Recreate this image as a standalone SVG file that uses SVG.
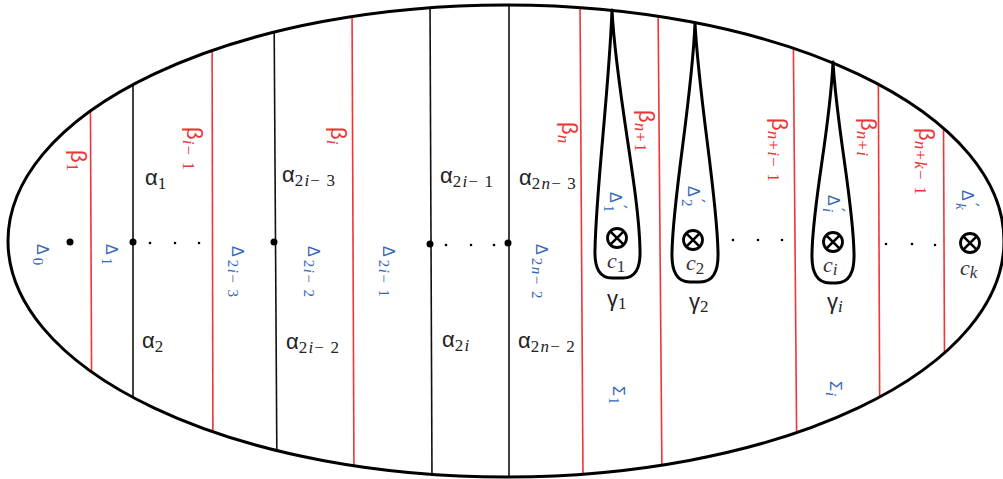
<svg xmlns="http://www.w3.org/2000/svg" width="1003" height="479" viewBox="0 0 1003 479">
<style>
.bd{fill:none;stroke:#000;stroke-width:3}
.a{stroke:#111;stroke-width:1.6;fill:none}
.b{stroke:#ef3535;stroke-width:1.6;fill:none}
.lp{fill:none;stroke:#000;stroke-width:3;stroke-linejoin:round}
.g{font-family:"Liberation Sans",sans-serif;font-size:22px}
.k{fill:#222}
.r{fill:#ee3535}
.bl{fill:#3568b8;font-family:"Liberation Sans",sans-serif;font-size:16px}
.s{font-family:"Liberation Serif",serif;font-size:17px;letter-spacing:1.2px}
.sb{font-family:"Liberation Serif",serif;font-size:15px;letter-spacing:1.5px}
.pr{font-family:"DejaVu Sans",sans-serif;font-size:17px}
.i{font-style:italic}
.c{font-family:"Liberation Serif",serif;font-style:italic;font-size:22px;fill:#333}
.dot{fill:#000}
</style>
<defs>
<clipPath id="clip"><ellipse cx="506" cy="241" rx="498" ry="236"/></clipPath>
<g id="ot"><circle r="9.5" fill="none" stroke="#000" stroke-width="2.8"/><path d="M-6.7,-6.7L6.7,6.7M6.7,-6.7L-6.7,6.7" stroke="#000" stroke-width="2.6"/></g>
</defs>
<rect width="1003" height="479" fill="#fff"/>

<g id="connectors" clip-path="url(#clip)">
<line class="b" x1="90" y1="0" x2="92" y2="479"/>
<line class="a" x1="133" y1="0" x2="133" y2="479"/>
<line class="b" x1="212" y1="0" x2="213" y2="479"/>
<line class="a" x1="274" y1="0" x2="277" y2="479"/>
<line class="b" x1="352" y1="0" x2="354" y2="479"/>
<line class="a" x1="430" y1="0" x2="432" y2="479"/>
<line class="a" x1="509" y1="0" x2="509" y2="479"/>
<line class="b" x1="580" y1="0" x2="583" y2="479"/>
<line class="b" x1="658" y1="0" x2="662" y2="479"/>
<line class="b" x1="793" y1="0" x2="797" y2="479"/>
<line class="b" x1="878" y1="0" x2="880" y2="479"/>
<line class="b" x1="943" y1="0" x2="945" y2="479"/>
</g>

<g id="surface">
<ellipse class="bd" cx="506" cy="241" rx="498" ry="236"/>
</g>

<g id="loop-1">
<path class="lp" d="M612,10 C609,90 596,190 595,250 Q594,278 612,278 L623,278 Q641,278 640,250 C639,190 616,90 612,10 Z"/>
<use href="#ot" x="617" y="238"/>
</g>
<g id="loop-2">
<path class="lp" d="M695,23 C692,100 673,195 672,252 Q671,282 690,282 L700,282 Q719,282 718,252 C717,195 699,100 695,23 Z"/>
<use href="#ot" x="693" y="240"/>
</g>
<g id="loop-i">
<path class="lp" d="M833,62 C830,130 813,200 812,253 Q811,283 830,283 L836,283 Q855,283 854,253 C853,200 837,130 833,62 Z"/>
<use href="#ot" x="833" y="242"/>
</g>
<g id="puncture-k">
<use href="#ot" x="970" y="243"/>
</g>

<g id="points">
<circle class="dot" cx="70" cy="242" r="3.5"/>
<circle class="dot" cx="133" cy="242" r="3.5"/>
<circle class="dot" cx="274" cy="242" r="3.5"/>
<circle class="dot" cx="430" cy="244" r="3.5"/>
<circle class="dot" cx="508" cy="243" r="3.5"/>
<circle class="dot" cx="150" cy="243" r="1.3"/>
<circle class="dot" cx="175" cy="243" r="1.3"/>
<circle class="dot" cx="199" cy="243" r="1.3"/>
<circle class="dot" cx="446" cy="245" r="1.3"/>
<circle class="dot" cx="471" cy="245" r="1.3"/>
<circle class="dot" cx="494" cy="245" r="1.3"/>
<circle class="dot" cx="733" cy="240" r="1.3"/>
<circle class="dot" cx="758" cy="240" r="1.3"/>
<circle class="dot" cx="782" cy="240" r="1.3"/>
<circle class="dot" cx="886" cy="244" r="1.3"/>
<circle class="dot" cx="912" cy="244" r="1.3"/>
<circle class="dot" cx="935" cy="245" r="1.3"/>
</g>

<g id="beta-labels" class="g r">
<text transform="translate(71,150) rotate(90)">β<tspan class="s" dy="4">1</tspan></text>
<text transform="translate(187,127) rotate(90)">β<tspan class="s" dy="4"><tspan class="i">i</tspan>− 1</tspan></text>
<text transform="translate(331,127) rotate(90)">β<tspan class="s i" dy="4">i</tspan></text>
<text transform="translate(562,122) rotate(90)">β<tspan class="s i" dy="4">n</tspan></text>
<text transform="translate(639,110) rotate(90)">β<tspan class="s" dy="4"><tspan class="i">n</tspan>+1</tspan></text>
<text transform="translate(772,118) rotate(90)">β<tspan class="s" dy="4"><tspan class="i">n</tspan>+<tspan class="i">i</tspan>− 1</tspan></text>
<text transform="translate(861,118) rotate(90)">β<tspan class="s" dy="4"><tspan class="i">n</tspan>+<tspan class="i">i</tspan></tspan></text>
<text transform="translate(919,128) rotate(90)">β<tspan class="s" dy="4"><tspan class="i">n</tspan>+<tspan class="i">k</tspan>− 1</tspan></text>
</g>

<g id="alpha-labels" class="g k">
<text x="145" y="185">α<tspan class="s" dy="4">1</tspan></text>
<text x="142" y="348">α<tspan class="s" dy="4">2</tspan></text>
<text x="282" y="182">α<tspan class="s" dy="4">2<tspan class="i">i</tspan>− 3</tspan></text>
<text x="286" y="349">α<tspan class="s" dy="4">2<tspan class="i">i</tspan>− 2</tspan></text>
<text x="440" y="183">α<tspan class="s" dy="4">2<tspan class="i">i</tspan>− 1</tspan></text>
<text x="519" y="185">α<tspan class="s" dy="4">2<tspan class="i">n</tspan>− 3</tspan></text>
<text x="442" y="347">α<tspan class="s" dy="4">2<tspan class="i">i</tspan></tspan></text>
<text x="518" y="348">α<tspan class="s" dy="4">2<tspan class="i">n</tspan>− 2</tspan></text>
</g>

<g id="gamma-labels" class="g k">
<text x="607" y="306">γ<tspan class="s" dy="3">1</tspan></text>
<text x="689" y="309">γ<tspan class="s" dy="3">2</tspan></text>
<text x="827" y="309">γ<tspan class="s i" dy="3">i</tspan></text>
</g>

<g id="c-labels">
<text class="c" x="607" y="268">c<tspan class="s" font-style="normal" dy="4">1</tspan></text>
<text class="c" x="686" y="270">c<tspan class="s" font-style="normal" dy="4">2</tspan></text>
<text class="c" x="823" y="272">c<tspan class="s" dy="3">i</tspan></text>
<text class="c" x="960" y="275">c<tspan class="s" dy="3">k</tspan></text>
</g>

<g id="delta-labels" class="bl">
<text transform="translate(37,244) rotate(90)">Δ<tspan class="sb" dx="3" dy="4">0</tspan></text>
<text transform="translate(106,244) rotate(90)">Δ<tspan class="sb" dx="3" dy="4">1</tspan></text>
<text transform="translate(232,246) rotate(90)">Δ<tspan class="sb" dx="3" dy="4">2<tspan class="i">i</tspan>− 3</tspan></text>
<text transform="translate(308,246) rotate(90)">Δ<tspan class="sb" dx="3" dy="4">2<tspan class="i">i</tspan>− 2</tspan></text>
<text transform="translate(383,246) rotate(90)">Δ<tspan class="sb" dx="3" dy="4">2<tspan class="i">i</tspan>− 1</tspan></text>
<text transform="translate(536,244) rotate(90)">Δ<tspan class="sb" dx="3" dy="4">2<tspan class="i">n</tspan>− 2</tspan></text>
<text transform="translate(610,192) rotate(90)">Δ<tspan class="pr" x="13" y="-4">′</tspan><tspan class="sb" x="13" y="6">1</tspan></text>
<text transform="translate(688,186) rotate(90)">Δ<tspan class="pr" x="13" y="-4">′</tspan><tspan class="sb" x="13" y="6">2</tspan></text>
<text transform="translate(828,195) rotate(90)">Δ<tspan class="pr" x="13" y="-4">′</tspan><tspan class="sb i" x="13" y="5">i</tspan></text>
<text transform="translate(962,190) rotate(90)">Δ<tspan class="pr" x="13" y="-4">′</tspan><tspan class="sb i" x="13" y="6">k</tspan></text>
</g>

<g id="sigma-labels" class="bl">
<text transform="translate(613,386) rotate(90)">Σ<tspan class="sb" dx="1" dy="4">1</tspan></text>
<text transform="translate(830,381) rotate(90)">Σ<tspan class="sb i" dx="1" dy="4">i</tspan></text>
</g>
</svg>
